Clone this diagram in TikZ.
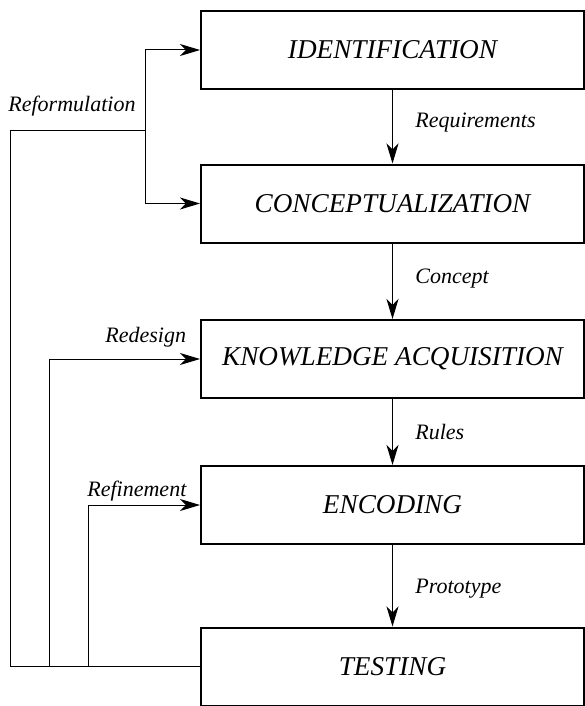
\documentclass[tikz,border=0pt]{standalone}
\usepackage{fontspec}
\setmainfont{Liberation Serif}
\usetikzlibrary{arrows.meta}

\tikzset{
  stage/.style={draw, line width=1pt, minimum width=191.5pt, minimum height=39pt,
    inner sep=0pt, font=\fontsize{13.6}{16}\selectfont\itshape},
  flow/.style={line width=0.5pt, -{Stealth[length=10pt,width=6pt,inset=3pt]}},
  loop/.style={line width=0.5pt},
  tag/.style={font=\fontsize{11}{13}\selectfont\itshape, inner sep=0pt, anchor=base west}
}

\begin{document}
\begin{tikzpicture}[x=0.5pt, y=-0.5pt]
\useasboundingbox (0,0) rectangle (584,706);

% Stages of the process
\node[stage] (ident)   at (392.5,50)    {IDENTIFICATION};
\node[stage] (concept) at (392.5,203.5) {CONCEPTUALIZATION};
\node[stage] (know)    at (392.5,359)   {KNOWLEDGE ACQUISITION};
\node[stage] (enc)     at (392.5,505)   {ENCODING};
\node[stage] (test)    at (392.5,666.5) {TESTING};

% Forward flow
\draw[flow] (ident)   -- (concept);
\draw[flow] (concept) -- (know);
\draw[flow] (know)    -- (enc);
\draw[flow] (enc)     -- (test);

\node[tag] (req)   at (415,127) {Requirements};
\node[tag] (conc)  at (415,283) {Concept};
\node[tag] (rules) at (415,439) {Rules};
\node[tag] (proto) at (415,593) {Prototype};

% Feedback loops
\coordinate (reform)   at (10,130);
\coordinate (branch)   at (145,130);
\coordinate (redesign) at (49,0);
\coordinate (refine)   at (88,0);

\draw[loop] (test.west) -| (reform) -- (branch);
\draw[flow] (branch) |- (ident.west);
\draw[flow] (branch) |- (concept.west);
\draw[flow] (test.west -| redesign) |- (know.west);
\draw[flow] (test.west -| refine) |- (enc.west);

\node[tag] (reftext) at (8,112)   {Reformulation};
\node[tag] (redtext) at (105,342) {Redesign};
\node[tag] (fintext) at (87,496)  {Refinement};
\end{tikzpicture}
\end{document}
